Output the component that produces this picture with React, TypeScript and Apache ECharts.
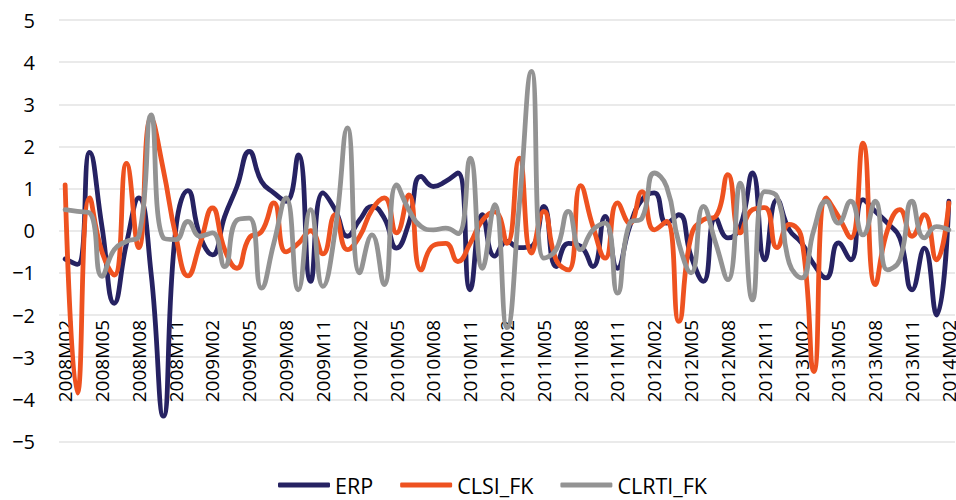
import React, { useEffect, useRef } from "react";
import * as echarts from "echarts";

const months: string[] = [];
for (let y = 2008; y <= 2014; y++) {
  for (let m = 1; m <= 12; m++) {
    if (y === 2008 && m < 2) continue;
    if (y === 2014 && m > 2) continue;
    months.push(`${y}M${m < 10 ? "0" + m : m}`);
  }
}

const erp = [
  -0.67, -0.8, 1.86, 0.1, -1.72, -0.3, 0.78, -1.0, -4.4, 0.0, 0.95, -0.13,
  -0.57, 0.34, 1.05, 1.88, 1.17, 0.9, 0.7, 1.8, -1.2, 0.9, 0.5, -0.13,
  0.26, 0.58, 0.3, -0.41, 0.18, 1.29, 1.05, 1.17, 1.37, -1.4, 0.38, -0.6,
  -0.25, -0.4, -0.37, 0.58, -0.85, -0.3, -0.37, -0.85, 0.34, -0.89, 0.1, 0.74,
  0.9, 0.18, 0.38, -0.61, -1.2, 0.3, -0.17, 0.1, 1.37, -0.69, 0.74, 0.02,
  -0.29, -0.8, -1.12, -0.29, -0.69, 0.74, 0.46, 0.18, -0.17, -1.4, -0.41, -2.0,
  0.7,
];

const clsiFk = [
  1.09, -3.85, 0.78, -0.5, -1.05, 1.6, -0.4, 2.67, 1.45, -0.1, -1.07, -0.3,
  0.54, -0.45, -0.89, -0.17, -0.02, 0.66, -0.5, -0.3, 0.0, -0.55, 0.38, -0.45,
  -0.13, 0.5, 0.78, -0.05, 0.85, -0.93, -0.35, -0.3, -0.73, -0.3, 0.25, 0.45,
  -0.3, 1.72, -0.53, 0.46, -0.69, -0.93, 1.07, 0.1, -0.65, 0.66, 0.18, 0.93,
  0.02, 0.22, -2.15, -0.13, 0.26, 0.34, 1.33, -0.05, 0.5, 0.55, -0.4, 0.15,
  -0.17, -3.34, 0.78, 0.34, -0.17, 2.08, -1.28, 0.02, 0.5, -0.13, 0.38, -0.69,
  0.66,
];

const clrtiFk = [
  0.5, 0.46, 0.42, -1.08, -0.45, -0.25, -0.13, 2.75, -0.17, -0.21, 0.22, -0.13,
  -0.05, -0.85, 0.25, 0.3, -1.36, -0.3, 0.78, -1.4, 0.5, -1.32, 0.0, 2.44,
  -1.0, -0.1, -1.28, 1.09, 0.5, 0.1, 0.02, 0.06, -0.07, 1.72, -0.89, 0.62,
  -2.3, 0.6, 3.78, -0.65, -0.45, 0.46, -0.45, 0.02, 0.18, -1.48, 0.18, 0.3,
  1.37, 1.05, -0.29, -1.0, 0.58, -0.29, -1.16, 1.13, -1.64, 0.93, 0.81, -0.77,
  -1.12, 0.02, 0.7, 0.18, 0.7, -0.1, 0.7, -0.93, -0.69, 0.7, -0.17, 0.1,
  0.02,
];

const FONT = "'Open Sans', 'Noto Sans', sans-serif";

export default function App() {
  const ref = useRef<HTMLDivElement>(null);
  useEffect(() => {
    if (!ref.current) return;
    const chart = echarts.init(ref.current, undefined, { renderer: "svg" });
    const mk = (name: string, data: number[], color: string) => ({
      name,
      type: "line",
      data,
      smooth: 0.5,
      showSymbol: false,
      symbol: "none",
      lineStyle: { color, width: 4.8, cap: "round", join: "round" },
      itemStyle: { color },
    });
    chart.setOption({
      animation: false,
      backgroundColor: "#ffffff",
      grid: {
        left: 59,
        right: 1,
        top: 20,
        bottom: 58.5,
        containLabel: false,
        outerBoundsMode: "none",
      },
      xAxis: {
        type: "category",
        data: months,
        boundaryGap: true,
        position: "bottom",
        axisLine: { show: false, onZero: false },
        axisTick: { show: false },
        splitLine: { show: false },
        axisLabel: {
          interval: 2,
          rotate: 90,
          margin: -121.5,
          fontSize: 19,
          fontFamily: FONT,
          color: "#000000",
          hideOverlap: false,
        },
      },
      yAxis: {
        type: "value",
        min: -5,
        max: 5,
        interval: 1,
        axisLine: { show: false },
        axisTick: { show: false },
        splitLine: { show: true, lineStyle: { color: "#e3e3e3", width: 1.5 } },
        axisLabel: {
          margin: 24,
          fontSize: 20,
          fontFamily: FONT,
          color: "#000000",
          formatter: (v: number) => String(v).replace("-", "\u2212"),
        },
      },
      legend: {
        bottom: -1,
        left: 273,
        icon: "roundRect",
        itemWidth: 52,
        itemHeight: 5,
        itemGap: 27,
        textStyle: { fontSize: 21.5, fontFamily: FONT, color: "#000000" },
        data: ["ERP", "CLSI_FK", "CLRTI_FK"],
      },
      series: [
        mk("ERP", erp, "#262262"),
        mk("CLSI_FK", clsiFk, "#ee5220"),
        mk("CLRTI_FK", clrtiFk, "#939393"),
      ],
    });
    return () => chart.dispose();
  }, []);
  return (
    <div
      ref={ref}
      style={{ position: "fixed", left: 0, top: 0, width: 956, height: 500 }}
    />
  );
}
